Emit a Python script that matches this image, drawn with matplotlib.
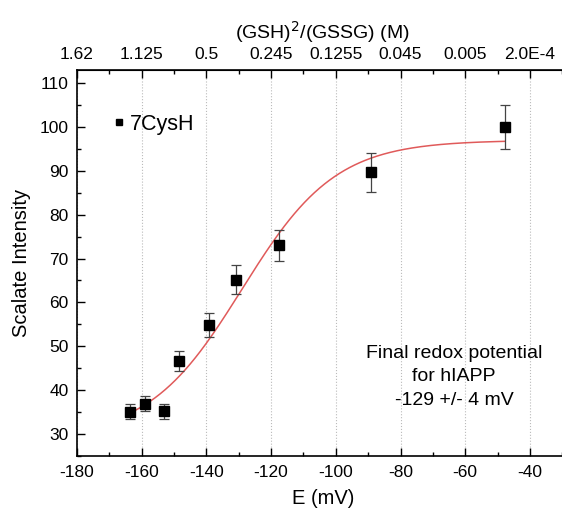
import matplotlib

matplotlib.use("Agg")
import matplotlib.pyplot as plt
from matplotlib.lines import Line2D
import numpy as np

plt.rcParams["font.family"] = ["Liberation Sans", "DejaVu Sans"]
plt.rcParams["axes.unicode_minus"] = False

# measured points (E in mV, scaled intensity, error)
E_MV = [-163.6, -158.9, -153.1, -148.4, -139.3, -130.8, -117.5, -89.1, -47.7]
INTENSITY = [35.0, 36.9, 35.1, 46.6, 54.8, 65.2, 73.0, 89.7, 100.0]
ERR = [1.7, 1.8, 1.7, 2.3, 2.8, 3.3, 3.6, 4.4, 5.0]

# Boltzmann fit parameters (A1, A2, x0, dx)
FIT_A1, FIT_A2, FIT_X0, FIT_DX = 29.0, 97.0, -129.0, 14.5

BOTTOM_TICKS = [-180, -160, -140, -120, -100, -80, -60, -40]
TOP_LABELS = ["1.62", "1.125", "0.5", "0.245", "0.1255", "0.045", "0.005", "2.0E-4"]

fig = plt.figure(figsize=(5.62, 5.12), dpi=100)
ax = fig.add_axes([0.137, 0.110, 0.875, 0.753])

xf = np.linspace(E_MV[0], E_MV[-1], 300)
yf = FIT_A2 + (FIT_A1 - FIT_A2) / (1 + np.exp((xf - FIT_X0) / FIT_DX))
ax.plot(xf, yf, color="#e05a5a", lw=1.1, zorder=2)

ax.errorbar(E_MV, INTENSITY, yerr=ERR, fmt="s", color="black", ms=7,
            ecolor="#444444", elinewidth=0.9, capsize=3.5, capthick=0.9,
            zorder=3)

ax.set_xlim(-180, -28)
ax.set_ylim(25, 113)
ax.set_xticks(BOTTOM_TICKS)
ax.set_xticks(np.arange(-170, -20, 20), minor=True)
ax.set_yticks(np.arange(30, 111, 10))
ax.set_yticks(np.arange(25, 113, 5), minor=True)
ax.tick_params(which="both", direction="in", labelsize=12.5, width=1.0)
ax.tick_params(which="major", length=6)
ax.tick_params(which="minor", length=3)
ax.tick_params(axis="x", which="both", top=True, labeltop=False, pad=7)
ax.tick_params(axis="y", pad=6)
for s in ax.spines.values():
    s.set_linewidth(1.2)
ax.spines["right"].set_visible(False)
ax.grid(axis="x", which="major", linestyle=":", color="#bbbbbb", lw=0.8)

ax.set_xlabel("E (mV)", fontsize=14.5, labelpad=6)
ax.set_ylabel("Scalate Intensity", fontsize=14.5, labelpad=6)

top = ax.secondary_xaxis("top")
top.set_xticks(BOTTOM_TICKS, TOP_LABELS)
top.tick_params(length=0, labelsize=12.5, pad=6)
top.set_xlabel("(GSH)$^2$/(GSSG) (M)", fontsize=14, labelpad=6)

handle = Line2D([], [], marker="s", ls="none", color="black", ms=5)
ax.legend([handle], ["7CysH"], loc="center left", bbox_to_anchor=(0.035, 0.86),
          frameon=False, fontsize=15.5, handlelength=0.5, handletextpad=0.25)

ax.text(-63.5, 43, "Final redox potential\nfor hIAPP\n-129 +/- 4 mV",
        ha="center", va="center", fontsize=14, linespacing=1.5)

fig.savefig("out.png", dpi=100)
